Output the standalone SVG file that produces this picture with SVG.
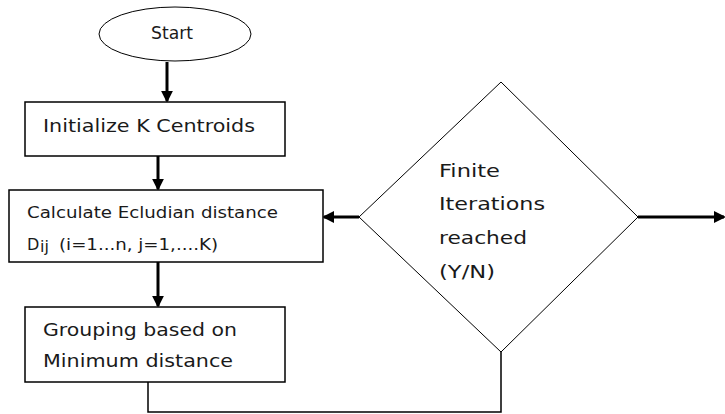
<svg xmlns="http://www.w3.org/2000/svg" width="725" height="414" viewBox="0 0 725 414">
<defs>
<style>
.shape{fill:#fff;stroke:#000;stroke-width:1.5}
.thin{fill:#fff;stroke:#000;stroke-width:1}
.t{font-family:"DejaVu Sans",Verdana,sans-serif;font-size:18px;fill:#1a1a1a}
.s{font-family:"DejaVu Sans",Verdana,sans-serif;font-size:16px;fill:#1a1a1a}
.arr{stroke:#000;stroke-width:3;fill:none}
.ln{stroke:#000;stroke-width:1.5;fill:none}
</style>
<marker id="ah" markerWidth="4" markerHeight="4" refX="3.4" refY="2" orient="auto" markerUnits="strokeWidth">
<path d="M0,0 L4,2 L0,4 z" fill="#000"/>
</marker>
</defs>
<rect width="725" height="414" fill="#fff"/>
<g id="connectors">
<line class="arr" x1="167" y1="62" x2="167" y2="101" marker-end="url(#ah)"/>
<line class="arr" x1="158" y1="146" x2="158" y2="189" marker-end="url(#ah)"/>
<line class="arr" x1="158" y1="262" x2="158" y2="306" marker-end="url(#ah)"/>
<line class="arr" x1="359" y1="217" x2="324" y2="217" marker-end="url(#ah)"/>
<line class="arr" x1="638" y1="217" x2="724" y2="217" marker-end="url(#ah)"/>
<polyline class="ln" points="148,382 148,412 501,412 501,352"/>
</g>
<g id="start">
<ellipse class="thin" cx="175" cy="34" rx="76" ry="27"/>
<text class="t" x="151" y="39" textLength="42" lengthAdjust="spacingAndGlyphs">Start</text>
</g>
<g id="init">
<rect class="shape" x="25" y="102" width="260" height="54"/>
<text class="t" x="43" y="132" textLength="212" lengthAdjust="spacingAndGlyphs">Initialize K Centroids</text>
</g>
<g id="calc">
<rect class="shape" x="9" y="190" width="314" height="72"/>
<text class="s" x="27" y="218" textLength="251" lengthAdjust="spacingAndGlyphs">Calculate Ecludian distance</text>
<text class="s" x="27" y="250">D</text>
<text class="s" x="40" y="252" font-size="10">ij</text>
<text class="s" x="59" y="250" textLength="159" lengthAdjust="spacingAndGlyphs">(i=1...n, j=1,....K)</text>
</g>
<g id="group">
<rect class="shape" x="25" y="307" width="260" height="75"/>
<text class="t" x="43" y="336" textLength="194" lengthAdjust="spacingAndGlyphs">Grouping based on</text>
<text class="t" x="43" y="367" textLength="190" lengthAdjust="spacingAndGlyphs">Minimum distance</text>
</g>
<g id="decision">
<polygon class="thin" points="501,82 638,217 501,352 359,217"/>
<text class="t" x="439" y="177" textLength="61" lengthAdjust="spacingAndGlyphs">Finite</text>
<text class="t" x="439" y="210" textLength="106" lengthAdjust="spacingAndGlyphs">Iterations</text>
<text class="t" x="439" y="244" textLength="88" lengthAdjust="spacingAndGlyphs">reached</text>
<text class="t" x="439" y="278" textLength="56" lengthAdjust="spacingAndGlyphs">(Y/N)</text>
</g>
</svg>
